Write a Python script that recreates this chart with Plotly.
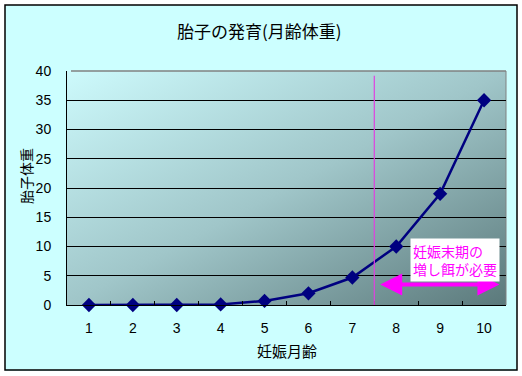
import base64
import plotly.graph_objects as go

# ---- data ----
months = ["1", "2", "3", "4", "5", "6", "7", "8", "9", "10"]
weights = [0, 0, 0, 0.1, 0.7, 2.0, 4.7, 10.0, 19.0, 35.0]
title_text = "胎子の発育(月齢体重)"
x_title = "妊娠月齢"
y_title = "胎子体重"
note_text = "妊娠末期の<br>増し餌が必要"
y_ticks = [0, 5, 10, 15, 20, 25, 30, 35, 40]

W, H = 522, 376
ML, MR, MT, MB = 67, 16, 71, 71
PW, PH = W - ML - MR, H - MT - MB


def px_x(p):
    return (p - ML) / PW


def px_y(p):
    return (H - MB - p) / PH


svg = (
    '<svg xmlns="http://www.w3.org/2000/svg" width="439" height="234" '
    'viewBox="0 0 439 234" preserveAspectRatio="none">'
    '<defs><linearGradient id="g" x1="0" y1="0" x2="1" y2="1">'
    '<stop offset="0" stop-color="#CDFAFC"/>'
    '<stop offset="0.5" stop-color="#A0C6C9"/>'
    '<stop offset="1" stop-color="#5B797B"/>'
    '</linearGradient></defs>'
    '<rect width="439" height="234" fill="url(#g)"/></svg>'
)
svg_uri = "data:image/svg+xml;base64," + base64.b64encode(svg.encode()).decode()

fig = go.Figure()
fig.add_trace(go.Scatter(
    x=months, y=weights, mode="lines+markers",
    line=dict(color="#000080", width=2.5),
    marker=dict(symbol="diamond", size=11, color="#000080"),
    cliponaxis=False, showlegend=False, hoverinfo="skip",
))

fig.update_layout(
    width=W, height=H,
    margin=dict(l=ML, r=MR, t=MT, b=MB),
    paper_bgcolor="#CCFFFF",
    plot_bgcolor="rgba(0,0,0,0)",
    font=dict(family="Liberation Sans, Arial, sans-serif", size=13, color="black"),
    showlegend=False,
    xaxis=dict(
        type="category", range=[-0.5, 9.5],
        showgrid=False, zeroline=False,
        showline=True, linecolor="black", linewidth=1,
        ticks="inside", ticklen=4, tickcolor="black", tickson="boundaries",
        ticklabelstandoff=10,
        tickfont=dict(size=14),
    ),
    yaxis=dict(
        range=[0, 40], tickvals=y_ticks,
        showgrid=True, gridcolor="black", gridwidth=1,
        zeroline=False,
        showline=True, linecolor="black", linewidth=1,
        ticks="", ticklabelstandoff=12,
        tickfont=dict(size=14),
    ),
    images=[dict(
        source=svg_uri, xref="paper", yref="paper",
        x=0, y=1, sizex=1, sizey=1, xanchor="left", yanchor="top",
        sizing="stretch", layer="below",
    )],
)

shapes = [
    # outer white margin and black frame
    dict(type="rect", xref="paper", yref="paper",
         x0=px_x(0), x1=px_x(W), y0=px_y(H), y1=px_y(0),
         line=dict(color="white", width=10), fillcolor="rgba(0,0,0,0)", layer="below"),
    dict(type="rect", xref="paper", yref="paper",
         x0=px_x(5), x1=px_x(517), y0=px_y(370), y1=px_y(5),
         line=dict(color="black", width=1.5), fillcolor="rgba(0,0,0,0)", layer="below"),
    # gray top and right plot frame
    dict(type="line", xref="paper", yref="paper", x0=px_x(ML + 4), x1=1, y0=1, y1=1,
         line=dict(color="#808080", width=1.5), layer="above"),
    dict(type="line", xref="paper", yref="paper", x0=1, x1=1, y0=0, y1=1,
         line=dict(color="#808080", width=1), layer="below"),
    # magenta vertical divider
    dict(type="line", xref="x", yref="y", x0=6.5, x1=6.5, y0=0, y1=39.2,
         line=dict(color="#E040E0", width=1.2), layer="above"),
]
fig.update_layout(shapes=shapes)

annotations = [
    dict(text=title_text, xref="paper", yref="paper", x=px_x(259), y=px_y(31),
         xanchor="center", yanchor="middle", showarrow=False,
         font=dict(family="Noto Sans CJK JP", size=17, color="black")),
    dict(text=y_title, xref="paper", yref="paper", x=px_x(26), y=px_y(176),
         xanchor="center", yanchor="middle", showarrow=False, textangle=-90,
         font=dict(family="Noto Sans CJK JP", size=14, color="black")),
    dict(text=x_title, xref="paper", yref="paper", x=px_x(287), y=px_y(350),
         xanchor="center", yanchor="middle", showarrow=False,
         font=dict(family="Noto Sans CJK JP", size=15, color="black")),
    # double-headed arrow
    dict(x=9.35, y=3.5, ax=6.6, ay=3.5, xref="x", yref="y", axref="x", ayref="y",
         text="", showarrow=True, arrowhead=2, startarrowhead=2,
         arrowside="end+start", arrowwidth=4, arrowsize=1.1, startarrowsize=1.1,
         arrowcolor="#FF00FF"),
    # note box
    dict(text=note_text, xref="paper", yref="paper", x=px_x(410), y=px_y(238),
         xanchor="left", yanchor="top", align="left", showarrow=False,
         bgcolor="white", borderpad=2,
         font=dict(family="Noto Sans CJK JP", size=14, color="#FF00FF")),
]
fig.update_layout(annotations=annotations)

fig.write_html(
    "out.html",
    config={"displayModeBar": False, "staticPlot": True},
    post_script="document.body.style.margin='0';document.body.style.overflow='hidden';",
)
